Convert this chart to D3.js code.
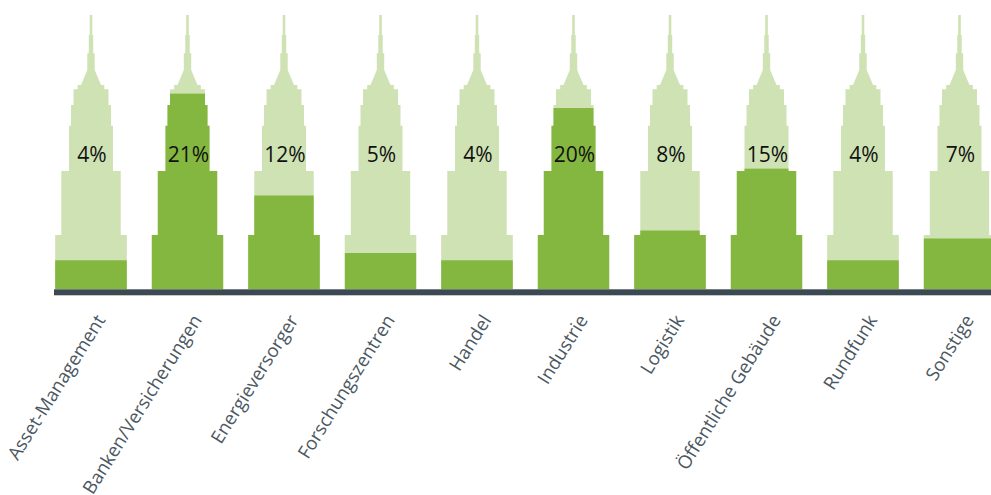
<!DOCTYPE html>
<html>
<head>
<meta charset="utf-8">
<script src="https://cdn.jsdelivr.net/npm/d3@7"></script>
<style>
  html, body { margin: 0; padding: 0; background: #ffffff; }
  svg { display: block; }
</style>
</head>
<body>
<svg id="chart" width="991" height="495"></svg>
<script>
// ---- data ----
const categories = [
  "Asset-Management", "Banken/Versicherungen", "Energieversorger", "Forschungszentren",
  "Handel", "Industrie", "Logistik", "Öffentliche Gebäude", "Rundfunk", "Sonstige"
];
const shares = [4, 21, 12, 5, 4, 20, 8, 15, 4, 7];   // percent
const towerCapacity = 22.4;                           // percent that would fill a whole tower

// ---- layout ----
const W = 991, H = 495;
const ground = 289.3;
const svg = d3.select("#chart");

// tower silhouette: [height above ground, half width]
const tower = [
  [0, 35.8], [54.3, 35.8], [54.3, 29.7], [118.3, 29.7], [118.3, 22], [163.6, 22],
  [163.6, 20], [184.3, 20], [184.3, 17.5], [200, 17.5], [200, 13.3], [204.3, 13.3],
  [204.3, 10], [219.3, 3.7], [236, 3.7], [236, 2.2], [254.3, 2.2], [254.3, 1.3], [274.3, 1.3]
];
const towerTop = tower[tower.length - 1][0];

const x = d3.scalePoint().domain(categories).range([91, 959.5]);
const y = d3.scaleLinear().domain([0, towerTop]).range([ground, ground - towerTop]);

function areaBelow(h) {
  let a = 0;
  for (let i = 0; i < tower.length - 1; i++) {
    const [h0, w0] = tower[i], [h1, w1] = tower[i + 1];
    if (h1 <= h0 || h <= h0) continue;
    const hh = Math.min(h, h1);
    const wh = w0 + (w1 - w0) * (hh - h0) / (h1 - h0);
    a += (w0 + wh) * (hh - h0);
  }
  return a;
}
const totalArea = areaBelow(towerTop);
const areaScale = d3.scaleLinear().domain([0, towerCapacity]).range([0, totalArea]);

function fillHeight(v) {
  const target = areaScale(v);
  let lo = 0, hi = towerTop;
  for (let k = 0; k < 60; k++) {
    const mid = (lo + hi) / 2;
    if (areaBelow(mid) < target) lo = mid; else hi = mid;
  }
  return (lo + hi) / 2;
}

const outline = d3.area()
  .x0(d => -d[1])
  .x1(d => d[1])
  .y(d => y(d[0]))
  .curve(d3.curveLinear);

const defs = svg.append("defs");
defs.append("clipPath").attr("id", "towerClip")
  .append("path").attr("d", outline(tower));

const data = categories.map((c, i) => ({ cat: c, v: shares[i] }));

const g = svg.append("g").selectAll("g.tower")
  .data(data).join("g")
  .attr("class", "tower")
  .attr("transform", d => `translate(${x(d.cat)},0)`);

g.append("path")
  .attr("d", outline(tower))
  .attr("fill", "#cfe2b4");

g.append("g").attr("clip-path", "url(#towerClip)")
  .append("rect")
  .attr("x", -40)
  .attr("width", 80)
  .attr("y", d => y(fillHeight(d.v)))
  .attr("height", d => ground - y(fillHeight(d.v)))
  .attr("fill", "#84b740");

g.append("text")
  .attr("x", 1)
  .attr("y", 161.5)
  .attr("text-anchor", "middle")
  .attr("font-family", "'Open Sans', sans-serif")
  .attr("font-size", 21)
  .attr("font-weight", 500)
  .attr("fill", "#111111")
  .text(d => d3.format("d")(d.v) + "%");

// axis line
svg.append("rect")
  .attr("x", 54)
  .attr("y", ground)
  .attr("width", W - 54)
  .attr("height", 6)
  .attr("fill", "#3c4953");

// category labels
svg.append("g").selectAll("text")
  .data(categories).join("text")
  .attr("transform", d => `translate(${x(d) + 15},320) rotate(-58)`)
  .attr("text-anchor", "end")
  .attr("font-family", "'Open Sans', sans-serif")
  .attr("font-size", 18.5)
  .attr("fill", "#4b5761")
  .text(d => d);
</script>
</body>
</html>
